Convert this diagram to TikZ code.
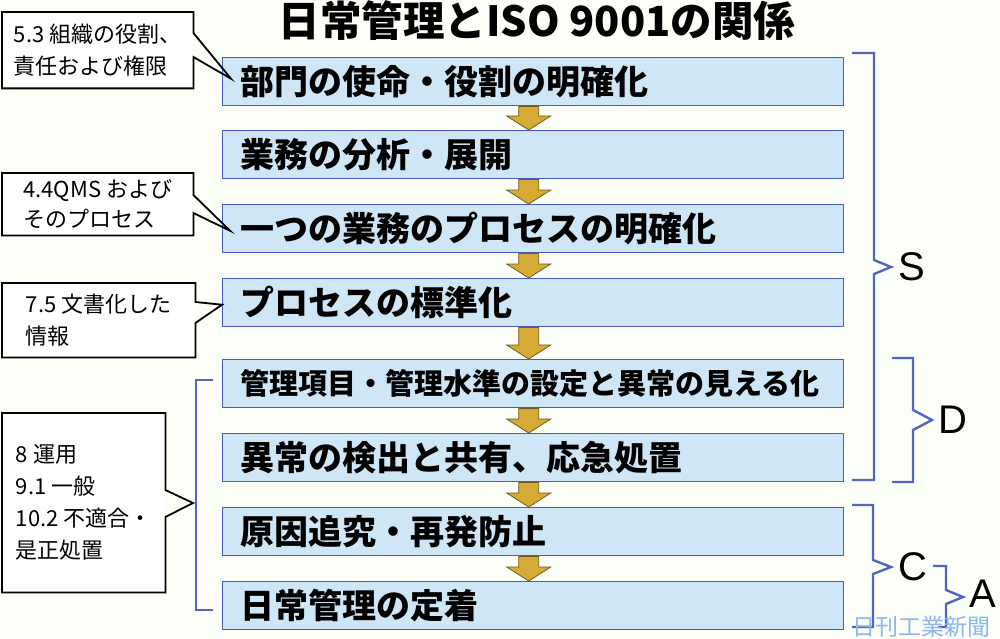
\documentclass[tikz,border=0pt]{standalone}
\usepackage{fontspec}
\setmainfont{Noto Sans CJK JP}
\newfontfamily\latfont{Liberation Sans}
\usetikzlibrary{calc}
\definecolor{bgcol}{RGB}{251,255,248}
\definecolor{boxfill}{RGB}{206,230,246}
\definecolor{boxline}{RGB}{70,92,190}
\definecolor{brk}{RGB}{80,102,192}
\definecolor{goldfill}{RGB}{214,170,52}
\definecolor{goldline}{RGB}{110,92,30}
\definecolor{wmark}{RGB}{140,182,236}
\newcommand\boxfont{\fontsize{34}{40}\selectfont\bfseries}
\newcommand\smallboxfont{\fontsize{29}{36}\selectfont\bfseries}
\newcommand\calloutfont{\fontsize{22}{32}\selectfont}
\begin{document}
\begin{tikzpicture}[x=1pt,y=-1pt,
  stepbox/.style={draw=boxline, line width=1.4pt, fill=boxfill, minimum width=621pt,
    minimum height=48pt, anchor=north west, inner xsep=18pt, inner ysep=0pt,
    text width=585pt, align=left, font=\boxfont},
  callout/.style={fill=white, anchor=north west, inner xsep=9pt, inner ysep=0pt,
    align=left, font=\calloutfont},
  calloutline/.style={draw=black, line width=1.8pt, line join=miter},
  goldarrow/.style={fill=goldfill, draw=goldline, line width=0.8pt},
  bracket/.style={draw=brk, line width=2.4pt, line join=miter},
  letter/.style={font=\latfont\fontsize{40}{40}\selectfont, inner sep=0pt}]
\useasboundingbox[fill=bgcol] (0,0) rectangle (1000,639);

% title
\node[font=\fontsize{41.5}{44}\selectfont\bfseries, inner sep=0pt] (title) at (537,21) {日常管理とISO 9001の関係};

% boxes
\node[stepbox] (b1) at (222,57) {部門の使命・役割の明確化};
\node[stepbox] (b2) at (222,130) {業務の分析・展開};
\node[stepbox] (b3) at (222,204) {一つの業務のプロセスの明確化};
\node[stepbox] (b4) at (222,278) {プロセスの標準化};
\node[stepbox, font=\smallboxfont] (b5) at (222,359) {管理項目・管理水準の設定と異常の見える化};
\node[stepbox] (b6) at (222,433) {異常の検出と共有、応急処置};
\node[stepbox] (b7) at (222,507) {原因追究・再発防止};
\node[stepbox] (b8) at (222,581) {日常管理の定着};

% arrows
\foreach \a/\b in {b1/b2,b2/b3,b3/b4,b4/b5,b5/b6,b6/b7,b7/b8}{
  \draw[goldarrow] let \p1=(\a.south), \p2=(\b.north) in
    (\x1-14.5pt,\y1) -- (\x1+5.5pt,\y1) -- (\x1+5.5pt,\y2+14pt) -- (\x1+17.5pt,\y2+14pt)
    -- (\x1-4.5pt,\y2) -- (\x1-26.5pt,\y2+14pt) -- (\x1-14.5pt,\y2+14pt) -- cycle;
}

% callouts
\node[callout, minimum width=191pt, minimum height=76pt] (c1) at (2,12) {5.3 組織の役割、\\責任および権限};
\draw[calloutline] (c1.north west) -- (c1.north east) -- (c1.east |- 0,33)
  -- ($(b1.west)+(9,-3)$) -- (c1.east |- 0,57) -- (c1.south east) -- (c1.south west) -- cycle;

\node[callout, minimum width=191pt, minimum height=62pt, font=\fontsize{22}{30}\selectfont] (c2) at (2,173) {4.4QMS および\\そのプロセス};
\draw[calloutline] (c2.north west) -- (c2.north east) -- (c2.east |- 0,195)
  -- ($(b3.west)+(8,2)$) -- (c2.east |- 0,213) -- (c2.south east) -- (c2.south west) -- cycle;

\node[callout, minimum width=193pt, minimum height=74pt] (c3) at (2,283) {7.5 文書化した\\情報};
\draw[calloutline] (c3.north west) -- (c3.north east) -- (c3.east |- 0,302)
  -- ($(b4.west)+(0,2)$) -- (c3.east |- 0,323) -- (c3.south east) -- (c3.south west) -- cycle;

\node[callout, minimum width=163pt, minimum height=179pt] (c4) at (2,413) {8 運用\\9.1 一般\\10.2 不適合・\\是正処置};
\coordinate (lb) at (196,495);
\draw[calloutline] (c4.north west) -- (c4.north east) -- (c4.east |- 0,490)
  -- ($(lb)+(-3,8)$) -- (c4.east |- 0,517) -- (c4.south east) -- (c4.south west) -- cycle;

% left bracket
\draw[bracket] (213,380) -- (196,380) -- (196,610) -- (213,610);

% right brackets
\draw[bracket] (852,53) -- (874,53) -- (874,260) -- (891,267) -- (874,274) -- (874,480) -- (852,480);
\node[letter] (S) at (912,267) {S};
\draw[bracket] (892,358) -- (913,358) -- (913,410) -- (932,420) -- (913,430) -- (913,482) -- (892,482);
\node[letter] (D) at (953,420) {D};
\draw[bracket] (852,505) -- (873,505) -- (873,560) -- (891,567) -- (873,574) -- (873,627) -- (852,627);
\node[letter] (C) at (913,567) {C};
\draw[bracket] (933,566) -- (946,566) -- (946,590) -- (963,597) -- (946,604) -- (946,627) -- (938,627);
\node[letter] (A) at (983,594) {A};

% watermark
\node[text=wmark, font=\fontsize{23}{23}\selectfont, inner sep=0pt] (wm) at (921,627) {日刊工業新聞};
\end{tikzpicture}
\end{document}
